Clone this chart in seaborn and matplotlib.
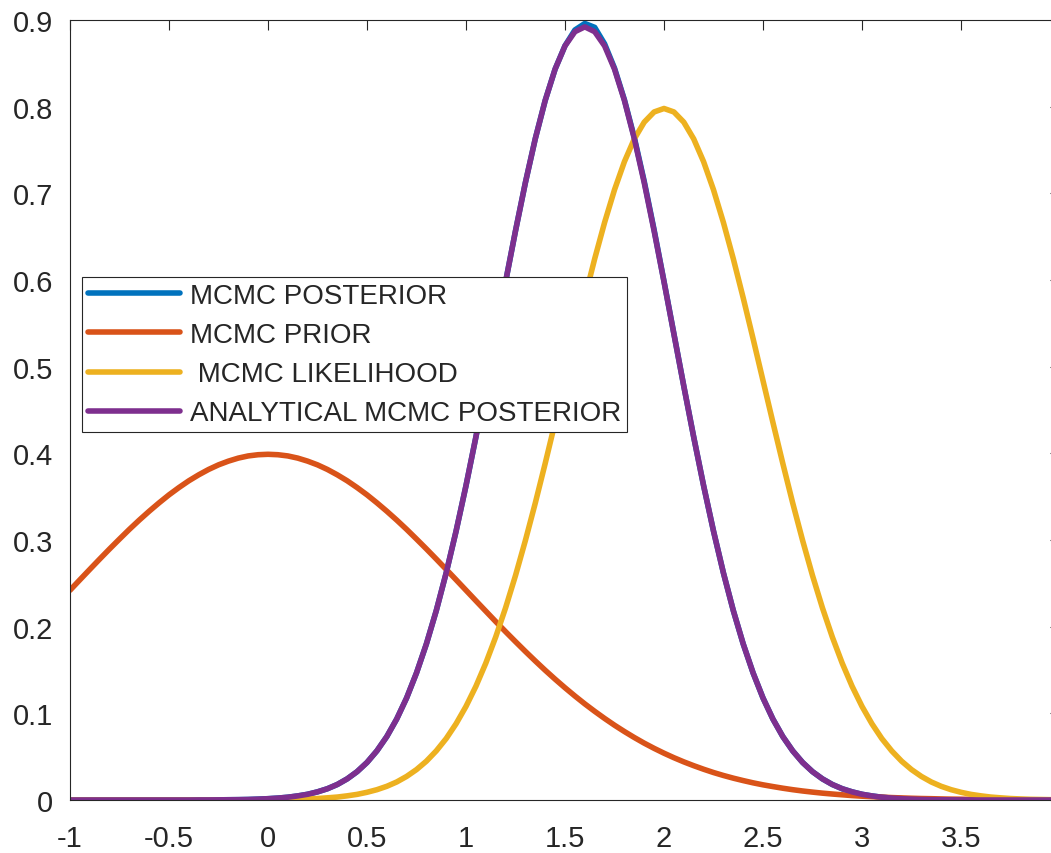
import matplotlib
matplotlib.use("Agg")
import matplotlib.pyplot as plt
import seaborn as sns
import pandas as pd

# ---- data (x grid every 0.05 from -1 to 4) ----
x_vals = [round(-1 + 0.05 * i, 2) for i in range(101)]

mcmc_prior = [0.2420, 0.2541, 0.2661, 0.2780, 0.2897, 0.3011, 0.3123, 0.3230, 0.3332, 0.3429,
              0.3521, 0.3605, 0.3683, 0.3752, 0.3814, 0.3867, 0.3910, 0.3945, 0.3970, 0.3984,
              0.3989,
              0.3984, 0.3970, 0.3945, 0.3910, 0.3867, 0.3814, 0.3752, 0.3683, 0.3605, 0.3521,
              0.3429, 0.3332, 0.3230, 0.3123, 0.3011, 0.2897, 0.2780, 0.2661, 0.2541, 0.2420,
              0.2299, 0.2179, 0.2059, 0.1942, 0.1827, 0.1714, 0.1604, 0.1497, 0.1394, 0.1295,
              0.1200, 0.1109, 0.1023, 0.0941, 0.0863, 0.0790, 0.0721, 0.0656, 0.0596, 0.0540,
              0.0488, 0.0440, 0.0396, 0.0355, 0.0317, 0.0283, 0.0252, 0.0224, 0.0198, 0.0175,
              0.0155, 0.0136, 0.0119, 0.0104, 0.0091, 0.0079, 0.0069, 0.0060, 0.0051, 0.0044,
              0.0038, 0.0033, 0.0028, 0.0024, 0.0020, 0.0017, 0.0015, 0.0012, 0.0010, 0.0009,
              0.0007, 0.0006, 0.0005, 0.0004, 0.0004, 0.0003, 0.0002, 0.0002, 0.0002, 0.0001]

mcmc_likelihood = [0] * 17 + [0.0001, 0.0001, 0.0002,
                   0.0003, 0.0004, 0.0006, 0.0008, 0.0012, 0.0017, 0.0025, 0.0034, 0.0048, 0.0065,
                   0.0089, 0.0119, 0.0158, 0.0208, 0.0272, 0.0351, 0.0448, 0.0567, 0.0709, 0.0880,
                   0.1080, 0.1312, 0.1579, 0.1881, 0.2218, 0.2590, 0.2995, 0.3427, 0.3884, 0.4357,
                   0.4839, 0.5322, 0.5794, 0.6245, 0.6664, 0.7041, 0.7365, 0.7628, 0.7821, 0.7939,
                   0.7979,
                   0.7939, 0.7821, 0.7628, 0.7365, 0.7041, 0.6664, 0.6245, 0.5794, 0.5322, 0.4839,
                   0.4357, 0.3884, 0.3427, 0.2995, 0.2590, 0.2218, 0.1881, 0.1579, 0.1312, 0.1080,
                   0.0880, 0.0709, 0.0567, 0.0448, 0.0351, 0.0272, 0.0208, 0.0158, 0.0119, 0.0089,
                   0.0065, 0.0048, 0.0034, 0.0025, 0.0017, 0.0012, 0.0008, 0.0006, 0.0004, 0.0003]

analytical_posterior = [0] * 13 + [
    0.0001, 0.0001, 0.0002, 0.0003, 0.0004, 0.0006, 0.0010,
    0.0015, 0.0022, 0.0032, 0.0047, 0.0066, 0.0094, 0.0130, 0.0179, 0.0244, 0.0327,
    0.0433, 0.0567, 0.0732, 0.0934, 0.1177, 0.1466, 0.1801, 0.2186, 0.2621, 0.3103,
    0.3627, 0.4188, 0.4775, 0.5377, 0.5980, 0.6567, 0.7124, 0.7631, 0.8072, 0.8433,
    0.8701, 0.8865, 0.8921,
    0.8865, 0.8701, 0.8433, 0.8072, 0.7631, 0.7124, 0.6567, 0.5980, 0.5377, 0.4775,
    0.4188, 0.3627, 0.3103, 0.2621, 0.2186, 0.1801, 0.1466, 0.1177, 0.0934, 0.0732,
    0.0567, 0.0433, 0.0327, 0.0244, 0.0179, 0.0130, 0.0094, 0.0066, 0.0047, 0.0032,
    0.0022, 0.0015, 0.0010, 0.0006, 0.0004, 0.0003, 0.0002, 0.0001, 0.0001] + [0] * 9

mcmc_posterior = [0] * 13 + [
    0.0001, 0.0001, 0.0002, 0.0003, 0.0004, 0.0006, 0.0010,
    0.0015, 0.0022, 0.0032, 0.0047, 0.0066, 0.0094, 0.0130, 0.0179, 0.0244, 0.0327,
    0.0433, 0.0567, 0.0732, 0.0934, 0.1177, 0.1466, 0.1801, 0.2186, 0.2621, 0.3103,
    0.3627, 0.4188, 0.4775, 0.5377, 0.5980, 0.6567, 0.7124, 0.7631, 0.8072, 0.8433,
    0.8703, 0.8885, 0.8960,
    0.8915, 0.8725, 0.8445, 0.8080, 0.7645, 0.7140, 0.6580, 0.5985, 0.5380, 0.4775,
    0.4188, 0.3627, 0.3103, 0.2621, 0.2186, 0.1801, 0.1466, 0.1177, 0.0934, 0.0732,
    0.0567, 0.0433, 0.0327, 0.0244, 0.0179, 0.0130, 0.0094, 0.0066, 0.0047, 0.0032,
    0.0022, 0.0015, 0.0010, 0.0006, 0.0004, 0.0003, 0.0002, 0.0001, 0.0001] + [0] * 9

series_labels = ["MCMC POSTERIOR", "MCMC PRIOR", " MCMC LIKELIHOOD", "ANALYTICAL MCMC POSTERIOR"]
series_colors = ["#0072BD", "#D95319", "#EDB120", "#7E2F8E"]

x_ticks = [-1, -0.5, 0, 0.5, 1, 1.5, 2, 2.5, 3, 3.5, 4]
x_tick_labels = ["-1", "-0.5", "0", "0.5", "1", "1.5", "2", "2.5", "3", "3.5", ""]
y_ticks = [0, 0.1, 0.2, 0.3, 0.4, 0.5, 0.6, 0.7, 0.8, 0.9]
y_tick_labels = ["0", "0.1", "0.2", "0.3", "0.4", "0.5", "0.6", "0.7", "0.8", "0.9"]

# ---- build long-form table ----
all_series = [mcmc_posterior, mcmc_prior, mcmc_likelihood, analytical_posterior]
frames = []
for lab, vals in zip(series_labels, all_series):
    frames.append(pd.DataFrame({"x": x_vals, "y": vals, "series": lab}))
df = pd.concat(frames, ignore_index=True)

sns.set_style("white")
plt.rcParams["font.family"] = ["Liberation Sans", "DejaVu Sans"]
plt.rcParams["axes.unicode_minus"] = False

W, H = 1051, 854
fig = plt.figure(figsize=(W / 100, H / 100), dpi=100)
ax = fig.add_axes([70 / W, 53 / H, 990 / W, 780 / H])

LW = 4.0
sns.lineplot(data=df, x="x", y="y", hue="series", hue_order=series_labels,
             palette=dict(zip(series_labels, series_colors)), linewidth=LW,
             sort=False, estimator=None, ax=ax, legend=True)
for ln in ax.get_lines():
    ln.set_solid_joinstyle("round")
    ln.set_solid_capstyle("round")

ax.set_xlim(-1, 4)
ax.set_ylim(0, 0.9)
ax.set_xticks(x_ticks)
ax.set_xticklabels(x_tick_labels)
ax.set_yticks(y_ticks)
ax.set_yticklabels(y_tick_labels)
ax.set_xlabel("")
ax.set_ylabel("")

axc = "#262626"
for s in ax.spines.values():
    s.set_visible(True)
    s.set_color(axc)
    s.set_linewidth(0.8)
ax.tick_params(axis="both", direction="in", length=7, width=0.8, color=axc,
               labelcolor=axc, labelsize=21, top=True, right=True)
ax.tick_params(axis="x", pad=17)
ax.tick_params(axis="y", pad=12)

leg = ax.legend(loc="upper left", bbox_to_anchor=(12 / 990, (801 - 278) / 780),
                borderaxespad=0, fontsize=20, frameon=True, fancybox=False,
                framealpha=1, edgecolor=axc, handlelength=3.3, handletextpad=0.35,
                labelspacing=0.47, borderpad=0.22)
leg.get_frame().set_linewidth(0.8)
for h in leg.get_lines():
    h.set_linewidth(LW)

fig.savefig("out.png", dpi=100)
